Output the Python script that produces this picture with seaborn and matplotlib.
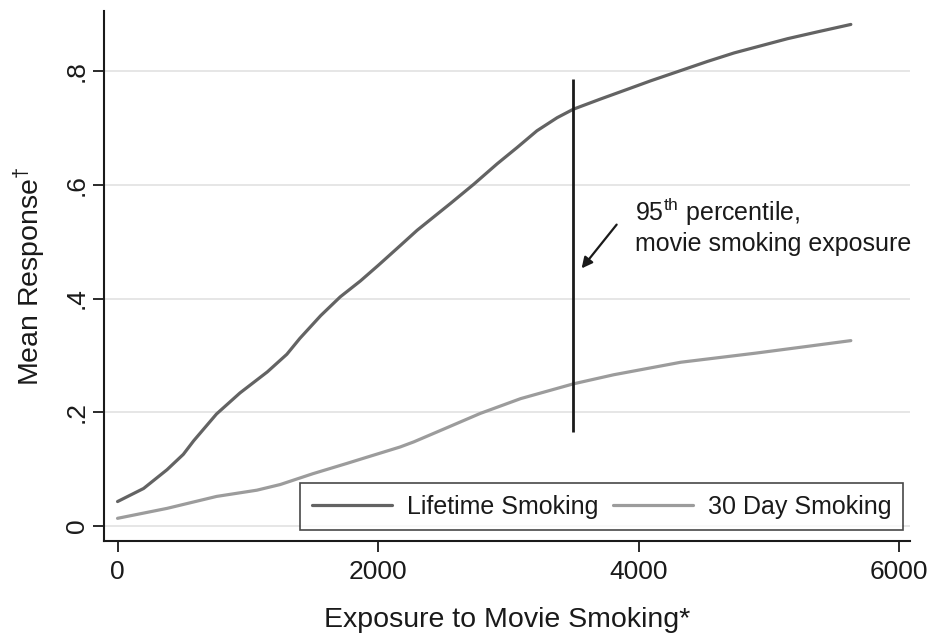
import matplotlib
matplotlib.use("Agg")
import matplotlib.pyplot as plt
import seaborn as sns
import pandas as pd

# values
lifetime_x = [0, 200, 380, 505, 585, 760, 940, 1150, 1300, 1400, 1560, 1710, 1865, 2000,
              2170, 2300, 2555, 2735, 2915, 3070, 3220, 3375, 3500, 3710, 3915, 4095,
              4300, 4530, 4735, 5145, 5375, 5630]
lifetime_y = [0.043, 0.066, 0.099, 0.126, 0.150, 0.197, 0.234, 0.271, 0.302, 0.330, 0.370,
              0.403, 0.431, 0.458, 0.493, 0.520, 0.567, 0.601, 0.637, 0.666, 0.695, 0.718,
              0.733, 0.751, 0.768, 0.783, 0.799, 0.817, 0.832, 0.857, 0.869, 0.882]
day30_x = [0, 380, 760, 1070, 1250, 1500, 1760, 1915, 2170, 2275, 2500, 2785, 3095, 3500,
           3810, 4325, 4900, 5300, 5630]
day30_y = [0.0135, 0.031, 0.052, 0.063, 0.073, 0.092, 0.110, 0.121, 0.139, 0.148, 0.170,
           0.198, 0.224, 0.250, 0.266, 0.288, 0.304, 0.316, 0.326]
series_names = ["Lifetime Smoking", "30 Day Smoking"]
x_ticks = [0, 2000, 4000, 6000]
y_ticks = [0, 0.2, 0.4, 0.6, 0.8]
y_ticklabels = ["0", ".2", ".4", ".6", ".8"]
pct95_x = 3500
pct95_range = (0.166, 0.786)

df = pd.concat([
    pd.DataFrame({"exposure": lifetime_x, "response": lifetime_y, "series": series_names[0]}),
    pd.DataFrame({"exposure": day30_x, "response": day30_y, "series": series_names[1]}),
])

sns.set_style("white")
plt.rcParams['font.family'] = ['Liberation Sans', 'DejaVu Sans']
plt.rcParams['mathtext.fontset'] = 'custom'
plt.rcParams['mathtext.rm'] = 'Liberation Sans'
plt.rcParams['mathtext.it'] = 'Liberation Sans:italic'

ink = "#1a1a1a"
fig = plt.figure(figsize=(9.31, 6.35), dpi=100)
ax = fig.add_axes([0.1117, 0.148, 0.8657, 0.835])

ax.set_axisbelow(True)
ax.grid(axis="y", color="#e2e2e2", linewidth=1.2)

sns.lineplot(data=df, x="exposure", y="response", hue="series",
             palette=["#636363", "#9c9c9c"], linewidth=2.3, ax=ax, legend=False)

# 95th percentile marker with arrow and note
ax.vlines(pct95_x, *pct95_range, color=ink, linewidth=2)
ax.annotate("", xy=(3563, 0.453), xytext=(3832, 0.530),
            arrowprops=dict(arrowstyle="-|>", color=ink, lw=1.6,
                            mutation_scale=16, shrinkA=0, shrinkB=0))
ax.text(3975, 0.527, "95$^{\\mathrm{th}}$ percentile,\nmovie smoking exposure",
        fontsize=18, color=ink, va="center", ha="left", linespacing=1.2)

ax.set_xlim(-104, 6084)
ax.set_ylim(-0.0264, 0.906)
ax.set_xticks(x_ticks)
ax.set_yticks(y_ticks)
ax.set_yticklabels(y_ticklabels, rotation=90, va="center")
ax.tick_params(axis="both", direction="out", length=8, width=1.3, color=ink,
               labelsize=19, labelcolor=ink, left=True, bottom=True)
ax.tick_params(axis="y", pad=3)
ax.tick_params(axis="x", pad=6)

ax.set_xlabel("Exposure to Movie Smoking*", fontsize=20.5, color=ink, labelpad=16)
ax.set_ylabel("Mean Response$^{\\dagger}$", fontsize=20.5, color=ink, labelpad=12)

for side in ["top", "right"]:
    ax.spines[side].set_visible(False)
for side in ["left", "bottom"]:
    ax.spines[side].set_color(ink)
    ax.spines[side].set_linewidth(1.5)

handles = [plt.Line2D([], [], color="#636363", lw=2.3),
           plt.Line2D([], [], color="#9c9c9c", lw=2.3)]
leg = ax.legend(handles, series_names, loc="lower right", ncol=2, fontsize=18,
                frameon=True, fancybox=False, bbox_to_anchor=(0.991, 0.021),
                borderaxespad=0, handlelength=3.2, columnspacing=0.6,
                handletextpad=0.6, borderpad=0.45)
leg.get_frame().set_edgecolor(ink)
leg.get_frame().set_linewidth(1.2)
for t in leg.get_texts():
    t.set_color(ink)

fig.savefig("out.png", dpi=100)
